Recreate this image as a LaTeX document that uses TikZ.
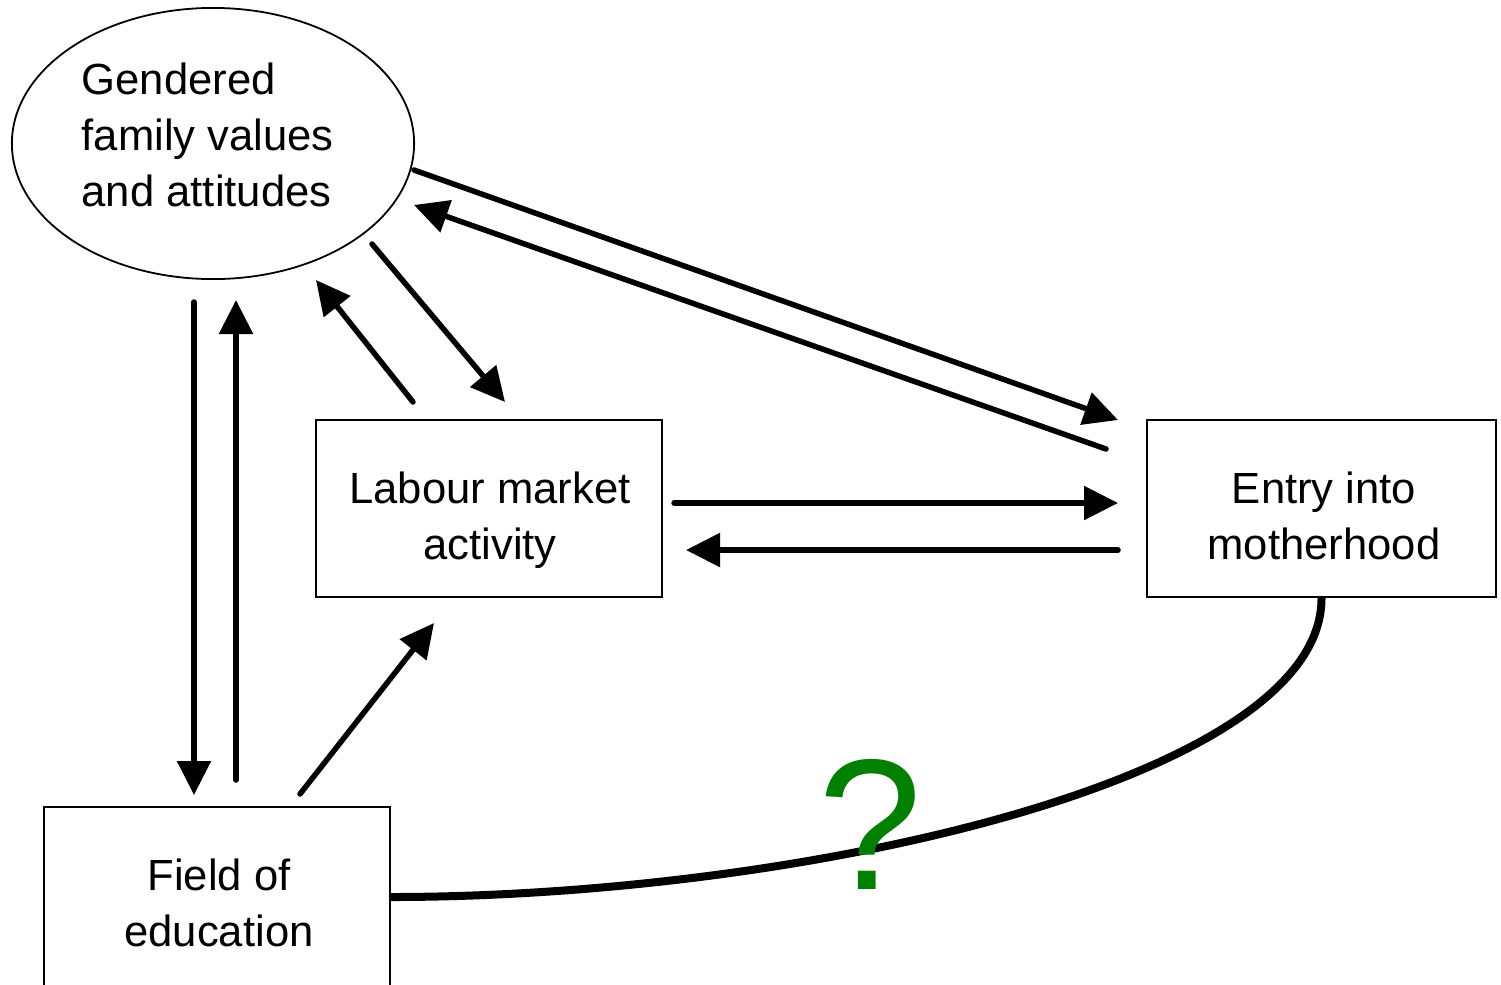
\documentclass[tikz,border=0pt]{standalone}
\usepackage{fontspec}
\setmainfont{Liberation Sans}
\usetikzlibrary{arrows.meta,shapes.geometric,calc}
\definecolor{qgreen}{RGB}{0,128,0}
\begin{document}
\begin{tikzpicture}[x=0.01cm,y=-0.01cm,
  box/.style={draw,line width=0.02cm,inner sep=0},
  txt/.style={font=\fontsize{12.4pt}{15.9pt}\selectfont,inner sep=0},
  arr/.style={line width=0.055cm,line cap=round,-{Triangle[length=0.34cm,width=0.33cm]}},
]
\useasboundingbox (0,0) rectangle (1501,984);
% nodes
\node[draw,ellipse,line width=0.018cm,minimum width=4.02cm,minimum height=2.71cm,inner sep=0] (gfv) at (213,143.5) {};
\node[txt,align=left,anchor=base west] (gfvt) at (81,206) {Gendered\\family values\\and attitudes};
\node[box,minimum width=3.46cm,minimum height=1.77cm] (lab) at (489,508.5) {};
\node[txt,align=center,anchor=base] (labt) at (490,559) {Labour market\\activity};
\node[box,minimum width=3.49cm,minimum height=1.77cm] (ent) at (1321.5,508.5) {};
\node[txt,align=center,anchor=base] (entt) at (1324,559) {Entry into\\motherhood};
\node[box,minimum width=3.46cm,minimum height=2.1cm] (fld) at (217,912) {};
\node[txt,align=center,anchor=base] (fldt) at (219,946) {Field of\\education};
% connector end points
\coordinate (a1s) at (414,170);  \coordinate (a1e) at (1118,420);
\coordinate (a2s) at (1106,449); \coordinate (a2e) at (414,205);
\coordinate (a3s) at (372,244);  \coordinate (a3e) at (505,402);
\coordinate (a4s) at (413,402);  \coordinate (a4e) at (316,280);
\coordinate (a5s) at (194,302);  \coordinate (a5e) at (194,795);
\coordinate (a6s) at (236,780);  \coordinate (a6e) at (236,300);
\coordinate (a7s) at (300,794);  \coordinate (a7e) at (434,623);
\coordinate (a8s) at (674,503);  \coordinate (a8e) at (1118,503);
\coordinate (a9s) at (1118,550); \coordinate (a9e) at (686,550);
\coordinate (ce) at (390,897);
% connectors
\draw[arr] (a1s) -- (a1e);
\draw[arr] (a2s) -- (a2e);
\draw[arr] (a3s) -- (a3e);
\draw[arr] (a4s) -- (a4e);
\draw[arr] (a5s) -- (a5e);
\draw[arr] (a6s) -- (a6e);
\draw[arr] (a7s) -- (a7e);
\draw[arr] (a8s) -- (a8e);
\draw[arr] (a9s) -- (a9e);
\draw[line width=0.08cm] (ent.south) .. controls (1322,780) and (800,897) .. (ce);
\node[font=\fontsize{53pt}{53pt}\selectfont,text=qgreen,anchor=base,inner sep=0] (q) at (870,889) {?};
\end{tikzpicture}
\end{document}
